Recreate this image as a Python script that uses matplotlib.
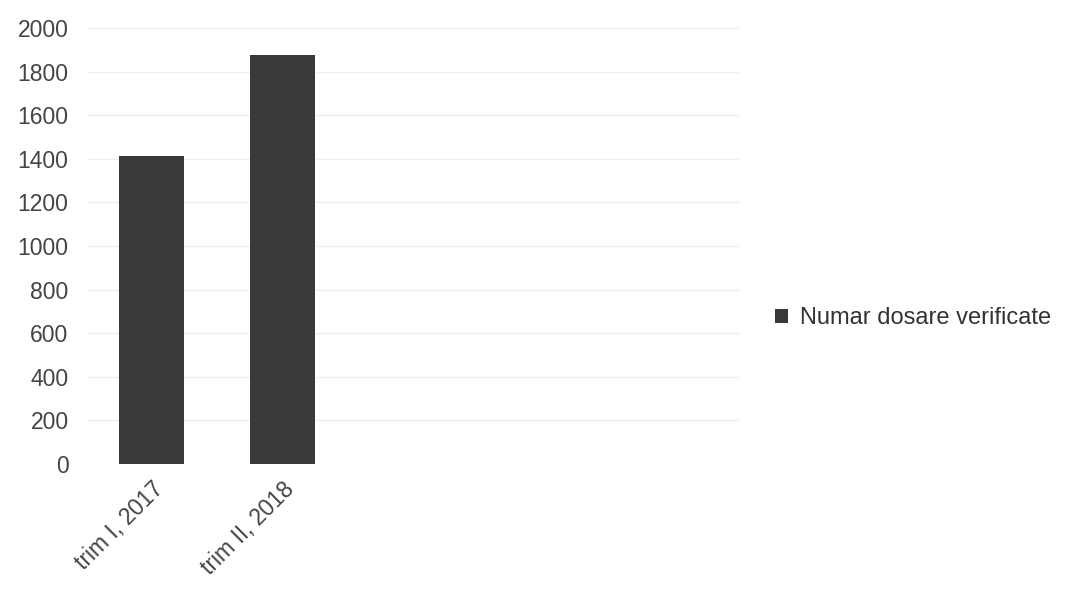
import matplotlib
matplotlib.use("Agg")
import matplotlib.pyplot as plt

# data
categories = ["trim I, 2017", "trim II, 2018"]
values = [1412, 1876]
series_name = "Numar dosare verificate"
y_ticks = list(range(0, 2001, 200))

plt.rcParams['font.family'] = ['Liberation Sans', 'DejaVu Sans']

fig = plt.figure(figsize=(10.69, 5.94), dpi=100)
ax = fig.add_axes([0.081, 0.219, 0.610, 0.734])

x = list(range(len(categories)))
ax.bar(x, values, width=0.5, color="#393939", label=series_name, zorder=2)

ax.set_xlim(-0.5, 4.5)
ax.set_ylim(0, 2000)
ax.set_yticks(y_ticks)
ax.set_yticklabels([str(t) for t in y_ticks], fontsize=16.5, color="#444444")
ax.set_xticks(x)
ax.set_xticklabels(categories, fontsize=16.5, color="#444444",
                   rotation=45, ha="right", rotation_mode="anchor")
ax.tick_params(axis="both", length=0, pad=13)
ax.tick_params(axis="x", pad=10)

ax.yaxis.grid(True, color="#efefef", linewidth=1.0, zorder=0)
for s in ax.spines.values():
    s.set_visible(False)

fig.legend(loc="center left", bbox_to_anchor=(0.705, 1 - 318 / 594),
           frameon=False, fontsize=17, handlelength=0.55, handleheight=0.55,
           handletextpad=0.5, labelcolor="#333333")

fig.savefig("out.png", dpi=100, facecolor="white")
